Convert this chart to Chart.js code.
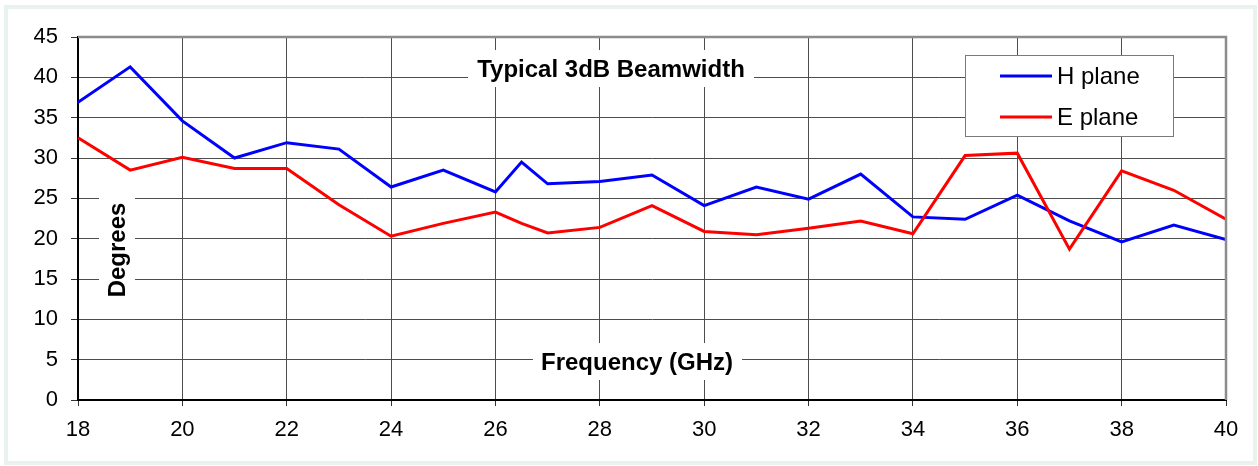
<!DOCTYPE html>
<html>
<head>
<meta charset="utf-8">
<script src="https://cdn.jsdelivr.net/npm/chart.js@4/dist/chart.umd.min.js"></script>
<style>
  body { margin: 0; background: #fff; }
  #wrap { width: 1258px; height: 466px; position: relative; }
</style>
</head>
<body>
<div id="wrap"><canvas id="chart"></canvas></div>
<script>
// frequency points (GHz)
const freqs = [18, 19, 20, 21, 22, 23, 24, 25, 26, 26.5, 27, 28, 29, 30, 31, 32, 33, 34, 35, 36, 37, 38, 39, 40];
// beamwidth, degrees
const hPlane = [36.9, 41.3, 34.6, 30.0, 31.9, 31.1, 26.4, 28.5, 25.8, 29.5, 26.8, 27.1, 27.9, 24.1, 26.4, 24.9, 28.0, 22.7, 22.4, 25.4, 22.2, 19.6, 21.7, 19.9];
const ePlane = [32.5, 28.5, 30.1, 28.7, 28.7, 24.2, 20.3, 21.9, 23.3, 21.9, 20.7, 21.4, 24.1, 20.9, 20.5, 21.3, 22.2, 20.6, 30.3, 30.6, 18.7, 28.4, 26.0, 22.4];
const seriesNames = ['H plane', 'E plane'];
const xTicks = [18, 20, 22, 24, 26, 28, 30, 32, 34, 36, 38, 40];
const yTicks = [0, 5, 10, 15, 20, 25, 30, 35, 40, 45];

const FONT = '"Liberation Sans", Arial, sans-serif';

const toPoints = (vals) => vals.map((v, i) => ({ x: freqs[i], y: v }));

// labels that sit inside the plot on a white patch, like the Excel original
const boxLabel = (ctx, text, cx, cy, box, rotate) => {
    ctx.save();
    ctx.fillStyle = '#fff';
    ctx.fillRect(box[0], box[1], box[2], box[3]);
    ctx.fillStyle = '#000';
    ctx.font = 'bold 24px ' + FONT;
    ctx.textAlign = 'center';
    ctx.textBaseline = 'middle';
    ctx.translate(cx, cy);
    if (rotate) ctx.rotate(-Math.PI / 2);
    ctx.fillText(text, 0, 0);
    ctx.restore();
};

const decor = {
    id: 'decor',
    beforeDraw(chart) {
        const ctx = chart.ctx;
        ctx.save();
        ctx.fillStyle = '#fff';
        ctx.fillRect(0, 0, chart.width, chart.height);
        ctx.strokeStyle = '#e9f2ec';
        ctx.lineWidth = 4;
        ctx.strokeRect(6, 7, 1249, 456);
        ctx.restore();
    },
    afterDraw(chart) {
        const ctx = chart.ctx;
        const a = chart.chartArea;

        // grey frame on top and right
        ctx.save();
        ctx.strokeStyle = '#8c8c8c';
        ctx.lineWidth = 2.5;
        ctx.beginPath();
        ctx.moveTo(a.left, a.top);
        ctx.lineTo(a.right, a.top);
        ctx.lineTo(a.right, a.bottom);
        ctx.stroke();
        ctx.restore();

        boxLabel(ctx, 'Typical 3dB Beamwidth', 611, 70, [468, 50, 286, 37], false);
        boxLabel(ctx, 'Frequency (GHz)', 637, 363, [533, 343, 209, 37], false);
        boxLabel(ctx, 'Degrees', 118, 250, [99, 192, 36, 112], true);

        // legend
        ctx.save();
        ctx.fillStyle = '#fff';
        ctx.fillRect(965, 55, 208, 81);
        ctx.strokeStyle = '#7a7a7a';
        ctx.lineWidth = 1;
        ctx.strokeRect(965.5, 55.5, 208, 81);
        ctx.font = '24px ' + FONT;
        ctx.textBaseline = 'middle';
        chart.data.datasets.forEach((ds, i) => {
            const y = 76 + i * 41;
            ctx.strokeStyle = ds.borderColor;
            ctx.lineWidth = 3;
            ctx.beginPath();
            ctx.moveTo(1000, y);
            ctx.lineTo(1052, y);
            ctx.stroke();
            ctx.fillStyle = '#000';
            ctx.fillText(ds.label, 1057, y + 1);
        });
        ctx.restore();
    }
};

new Chart(document.getElementById('chart'), {
    type: 'line',
    data: {
        datasets: [
            {
                label: seriesNames[0],
                data: toPoints(hPlane),
                borderColor: '#0000ff',
                borderWidth: 3,
                pointRadius: 0,
                tension: 0,
                order: 1
            },
            {
                label: seriesNames[1],
                data: toPoints(ePlane),
                borderColor: '#ff0000',
                borderWidth: 3,
                pointRadius: 0,
                tension: 0,
                order: 0
            }
        ]
    },
    options: {
        responsive: true,
        maintainAspectRatio: false,
        animation: false,
        layout: { padding: { top: 37, right: 32, left: 0, bottom: 0 } },
        plugins: {
            legend: { display: false },
            tooltip: { enabled: false }
        },
        scales: {
            x: {
                type: 'linear',
                min: 18,
                max: 40,
                afterBuildTicks: (s) => { s.ticks = xTicks.map(v => ({ value: v })); },
                afterFit: (s) => { s.height = 66; },
                grid: { color: '#4d4d4d', lineWidth: 1, tickLength: 6, tickColor: '#333' },
                border: { color: '#000', width: 2 },
                ticks: {
                    color: '#000',
                    padding: 11,
                    maxRotation: 0,
                    font: { family: FONT, size: 22 }
                }
            },
            y: {
                min: 0,
                max: 45,
                afterBuildTicks: (s) => { s.ticks = yTicks.map(v => ({ value: v })); },
                afterFit: (s) => { s.width = 78; },
                grid: { color: '#4d4d4d', lineWidth: 1, tickLength: 7, tickColor: '#333' },
                border: { color: '#000', width: 2 },
                ticks: {
                    color: '#000',
                    padding: 13,
                    font: { family: FONT, size: 22 }
                }
            }
        }
    },
    plugins: [decor]
});
</script>
</body>
</html>
